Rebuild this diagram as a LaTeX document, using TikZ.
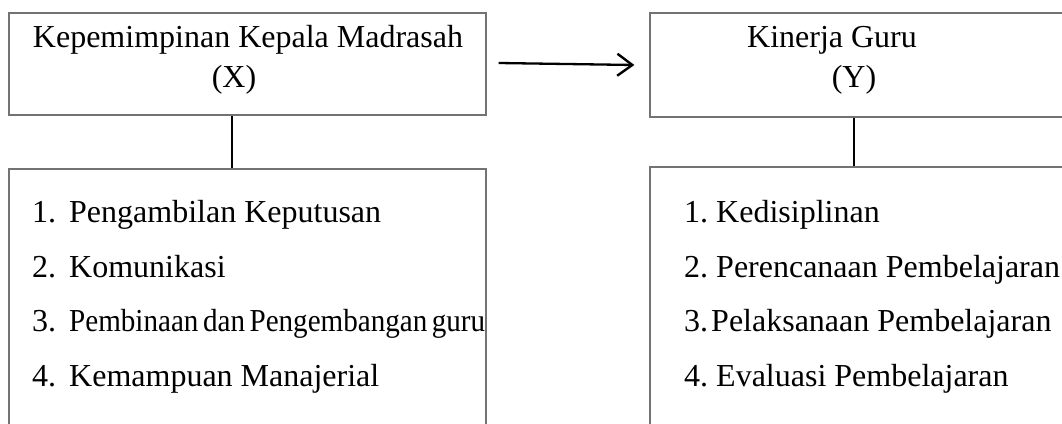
\documentclass[tikz,border=0pt]{standalone}
\usepackage{fontspec}
\setmainfont{Liberation Serif}
\usepackage{graphicx}
\usetikzlibrary{arrows.meta,calc}
\begin{document}
\begin{tikzpicture}[x=1pt,y=-1pt,
  box/.style={draw=black!55,line width=1.3pt,inner sep=0pt,minimum width=#1},
  conn/.style={line width=2.2pt,black},
  arr/.style={line width=2.3pt,black,-{Straight Barb[length=15pt,width=22pt,line width=2.4pt]}},
  txt/.style={inner sep=0pt,font=\fontsize{32}{37}\selectfont},
  item/.style={txt,anchor=base west},
  ttl/.style={txt,anchor=base}]
\useasboundingbox (0,0) rectangle (1062,423);
% boxes
\node[box=477pt,minimum height=102pt] (topL) at (247.5,64) {};
\node[box=430pt,minimum height=104pt] (topR) at (865,65) {};
\node[box=477pt,minimum height=280pt] (botL) at (247.5,309) {};
\node[box=430pt,minimum height=280pt] (botR) at (865,307) {};
% connector anchors
\coordinate (cL) at (232,0);
\coordinate (cR) at (854,0);
\draw[conn] (topL.south -| cL) -- (botL.north -| cL);
\draw[conn] (topR.south -| cR) -- (botR.north -| cR);
\draw[arr] ([xshift=12pt,yshift=1pt]topL.east) -- ([xshift=-15pt]topR.west);
% titles
\node[ttl] (t1) at (248,47) {Kepemimpinan Kepala Madrasah};
\node[ttl] (t2) at (234,87) {(X)};
\node[ttl] (t3) at (832,47) {Kinerja Guru};
\node[ttl] (t4) at (854,87) {(Y)};
% left list
\node[item] (n1) at (32,222) {1.};
\node[item] (l1) at (69,222) {Pengambilan Keputusan};
\node[item] (n2) at (32,277) {2.};
\node[item] (l2) at (69,277) {Komunikasi};
\node[item] (n3) at (32,331) {3.};
\node[item] (l3) at (69,331) {\resizebox{416pt}{\height}{Pembinaan\hspace{5pt}dan\hspace{5pt}Pengembangan\hspace{5pt}guru}};
\node[item] (n4) at (32,386) {4.};
\node[item] (l4) at (69,386) {Kemampuan Manajerial};
% right list
\node[item] (m1) at (684,222) {1.};
\node[item] (r1) at (716,222) {Kedisiplinan};
\node[item] (m2) at (684,277) {2.};
\node[item] (r2) at (716,277) {Perencanaan Pembelajaran};
\node[item] (m3) at (684,331) {3.};
\node[item] (r3) at (711,331) {Pelaksanaan Pembelajaran};
\node[item] (m4) at (684,386) {4.};
\node[item] (r4) at (716,386) {Evaluasi Pembelajaran};
\end{tikzpicture}
\end{document}
